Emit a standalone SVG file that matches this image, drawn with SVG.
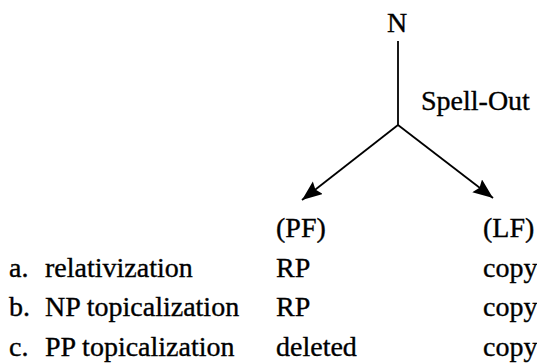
<svg xmlns="http://www.w3.org/2000/svg" width="537" height="363" viewBox="0 0 537 363" font-family="'Liberation Serif', 'DejaVu Serif', 'Times New Roman', serif" font-size="28">
<style>
text{font-family:'Liberation Serif','DejaVu Serif','Times New Roman',serif;font-size:28px;fill:#000;stroke:#000;stroke-width:0.35}
.ln{stroke:#000;stroke-width:1.8;fill:none}
</style>
<defs>
<marker id="ah" markerUnits="userSpaceOnUse" markerWidth="22" markerHeight="18" refX="20" refY="8" orient="auto">
<path d="M0,0 L20,8 L0,16 L3,8 z" fill="#000"/>
</marker>
</defs>
<rect width="537" height="363" fill="#fff"/>
<g id="connectors">
<line class="ln" x1="398" y1="41" x2="398" y2="125"/>
<line class="ln" x1="398" y1="125" x2="302" y2="200" marker-end="url(#ah)"/>
<line class="ln" x1="398" y1="125" x2="493" y2="198" marker-end="url(#ah)"/>
<text id="spellout" x="421" y="110">Spell-Out</text>
</g>
<g id="node-N"><text x="397" y="32" text-anchor="middle">N</text></g>
<g id="node-PF"><text x="276" y="237">(PF)</text></g>
<g id="node-LF"><text x="483" y="237">(LF)</text></g>
<g id="row-a">
<text x="9" y="277">a.</text><text x="45" y="277">relativization</text>
<text x="276" y="277">RP</text><text x="483" y="277">copy</text>
</g>
<g id="row-b">
<text x="9" y="316">b.</text><text x="45" y="316">NP topicalization</text>
<text x="276" y="316">RP</text><text x="483" y="316">copy</text>
</g>
<g id="row-c">
<text x="9" y="356">c.</text><text x="45" y="356">PP topicalization</text>
<text x="276" y="356">deleted</text><text x="483" y="356">copy</text>
</g>
</svg>
